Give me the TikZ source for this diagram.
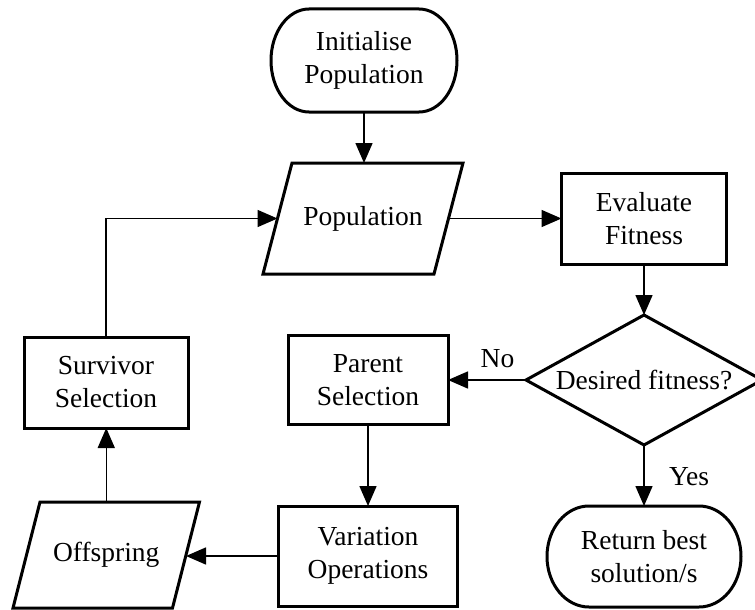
\documentclass[tikz,border=0pt]{standalone}
\usepackage{fontspec}
\setmainfont{Liberation Serif}
\usetikzlibrary{arrows.meta,calc}

% outline of a terminator: straight top and bottom, elliptical ends
\newcommand\terminatoroutline[3]{%
  \draw[frame] ($(#1.north west)+(#2,0)$) -- ($(#1.north east)+(-#2,0)$)
    arc[start angle=90,end angle=-90,x radius=#2pt,y radius=#3pt]
    -- ($(#1.south west)+(#2,0)$)
    arc[start angle=270,end angle=90,x radius=#2pt,y radius=#3pt] -- cycle;}
% outline of a data (input/output) parallelogram
\newcommand\dataoutline[2]{%
  \draw[frame] ($(#1.north west)+(#2,0)$) -- ($(#1.north east)+(#2,0)$)
    -- ($(#1.south east)+(-#2,0)$) -- ($(#1.south west)+(-#2,0)$) -- cycle;}

\begin{document}
\begin{tikzpicture}[x=1pt,y=-1pt,
  every node/.style={font=\fontsize{27.5}{33}\selectfont, align=center,
    inner sep=0pt, outer sep=0pt},
  frame/.style={line width=3pt, line join=miter},
  procbox/.style={draw, line width=3pt},
  conn/.style={line width=1.5pt, -{Triangle[length=20pt,width=17pt]}},
  lbl/.style={anchor=base}]

\useasboundingbox (0,0) rectangle (755,610);
\clip (0,0) rectangle (755,610);

% nodes
\node[minimum width=186pt, minimum height=103pt] (init) at (364,60.5) {Initialise\\Population};
\node[minimum width=171pt, minimum height=111pt] (pop) at (363,218.5) {Population};
\node[procbox, minimum width=165pt, minimum height=91pt] (eval) at (644,218.5) {Evaluate\\Fitness};
\node[minimum width=236pt, minimum height=130pt] (dec) at (644,380) {Desired fitness?};
\node[procbox, minimum width=160pt, minimum height=89pt] (parent) at (368,380) {Parent\\Selection};
\node[procbox, minimum width=164pt, minimum height=91pt] (surv) at (106,382.5) {Survivor\\Selection};
\node[procbox, minimum width=179pt, minimum height=100pt] (var) at (368,556) {Variation\\Operations};
\node[minimum width=159.5pt, minimum height=106pt] (off) at (106.25,555) {Offspring};
\node[minimum width=194pt, minimum height=101pt] (ret) at (644,556.5) {Return best\\solution/s};

% shape outlines
\terminatoroutline{init}{38}{51.5}
\terminatoroutline{ret}{42}{50.5}
\dataoutline{pop}{14.5}
\dataoutline{off}{13.5}
\draw[frame] (dec.north) -- (dec.east) -- (dec.south) -- (dec.west) -- cycle;

% connectors
\draw[conn] (init.south) -- (init.south |- pop.north);
\draw[conn] (pop.east) -- (eval.west);
\draw[conn] (eval.south) -- (dec.north);
\draw[conn] (dec.west) -- (parent.east);
\draw[conn] (dec.south) -- (ret.north);
\draw[conn] (parent.south) -- (var.north);
\draw[conn] (var.west) -- (var.west -| off.east);
\draw[conn] (off.north) -- (off.north |- surv.south);
\draw[conn] (surv.north) |- (pop.west);

% branch labels
\node[lbl] (no) at (497.5,367) {No};
\node[lbl] (yes) at (689,485) {Yes};
\end{tikzpicture}
\end{document}
